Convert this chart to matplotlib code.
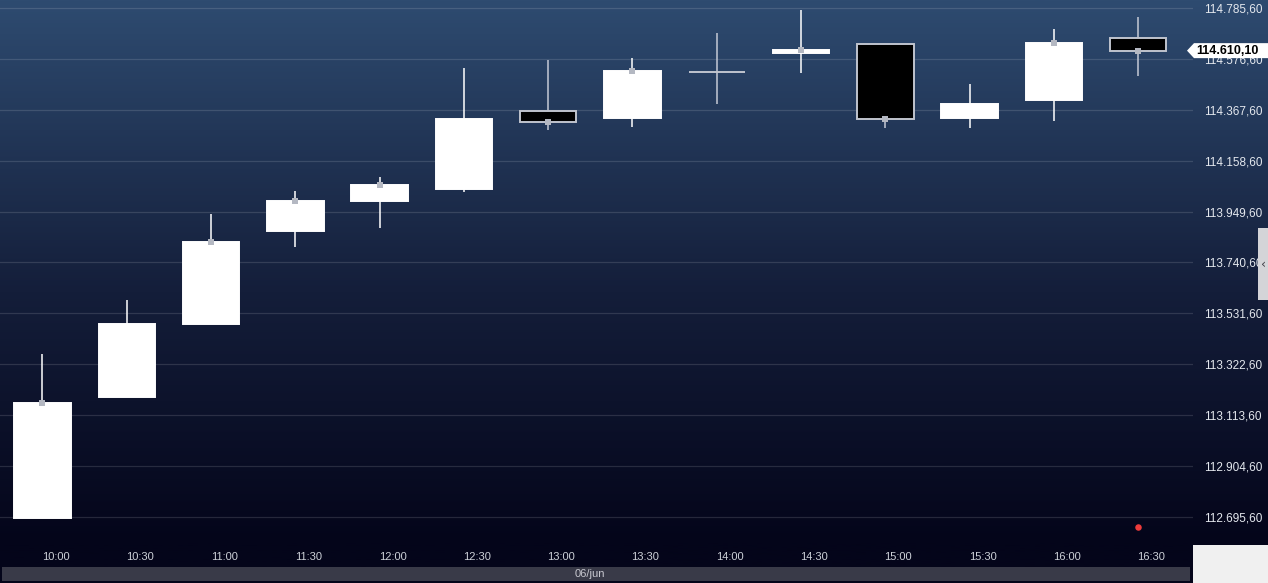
import matplotlib
matplotlib.use("Agg")
import matplotlib.pyplot as plt
import numpy as np
from matplotlib.colors import LinearSegmentedColormap
from matplotlib.patches import Rectangle, Polygon
from matplotlib.transforms import ScaledTranslation

W, H, DPI = 1268, 583, 100

# 30-min candles, 06/jun
TIMES = ["10:00", "10:30", "11:00", "11:30", "12:00", "12:30", "13:00",
         "13:30", "14:00", "14:30", "15:00", "15:30", "16:00", "16:30"]
OPEN = [112690.0, 113188.4, 113488.1, 113870.0, 113993.1, 114042.4, 114362.7,
        114333.9, 114522.8, 114600.8, 114637.8, 114333.9, 114407.8, 114662.4]
HIGH = [113364.9, 113586.6, 113939.8, 114034.2, 114091.7, 114539.2, 114572.1,
        114580.3, 114682.9, 114777.4, 114637.8, 114473.5, 114699.4, 114748.6]
LOW = [112690.0, 113188.4, 113488.1, 113804.3, 113882.3, 114030.1, 114284.7,
       114297.0, 114391.4, 114518.7, 114292.9, 114292.9, 114321.6, 114506.4]
CLOSE = [113163.7, 113488.1, 113824.8, 113993.1, 114058.8, 114329.8, 114315.5,
         114526.9, 114522.8, 114613.1, 114329.8, 114391.4, 114641.9, 114610.1]
MARKED = [True, False, True, True, True, False, True,
          True, False, True, True, False, True, True]
LAST = 114610.10
EVENT_X, EVENT_Y = 13, 112654.6
Y_TICKS = [112695.6, 112904.6, 113113.6, 113322.6, 113531.6, 113740.6,
           113949.6, 114158.6, 114367.6, 114576.6, 114785.6]
DATE = "06/jun"


def br(v):
    return f"{v:,.2f}".replace(",", "X").replace(".", ",").replace("X", ".")


def fx(px):
    return px / W


def fy(py):
    return 1 - py / H


fig = plt.figure(figsize=(W / DPI, H / DPI), dpi=DPI)

# background gradient
bg = fig.add_axes([0, 0, 1, 1], zorder=-10)
cmap = LinearSegmentedColormap.from_list(
    "bg", [(0, "#2e4b70"), (0.5, "#141e3a"), (0.93, "#04051a"), (1, "#04051a")])
bg.imshow(np.linspace(0, 1, 256).reshape(-1, 1), aspect="auto", cmap=cmap,
          extent=[0, 1, 0, 1])
bg.axis("off")

ax = fig.add_axes([0, fy(540), fx(1193), 540 / H])
ax.set_facecolor("none")

x = np.arange(len(TIMES))
o, h, l, c = map(np.array, (OPEN, HIGH, LOW, CLOSE))
up = c > o
down = c < o

wick_col = np.where(up, "#ffffff", "#c5cad6")
ax.vlines(x, l, h, colors=wick_col, lw=1.1, zorder=2)

face = np.where(up, "#ffffff", np.where(down, "#000000", "#c5cad6"))
edge = np.where(up, "#ffffff", "#c0c4ce")
ax.bar(x, c - o, bottom=o, width=0.67, color=face, edgecolor=edge,
       linewidth=1.4, zorder=3)

m = np.array(MARKED)
ax.scatter(x[m], c[m], marker="s", s=20, color="#b4b8c2", lw=0, zorder=4)

ax.scatter([EVENT_X], [EVENT_Y], s=22, color="#ee3b3b", lw=0, zorder=4)

ax.set_xlim(-0.504, 13.65)
ax.set_ylim(112601, 114818)

ax.set_yticks(Y_TICKS)
ax.set_yticklabels([br(v) for v in Y_TICKS])
ax.grid(axis="y", color="#ffffff", alpha=0.13, lw=0.9)
ax.tick_params(axis="y", left=False, labelleft=False, right=True, labelright=True,
               length=0, pad=8, labelsize=8.5, labelcolor="#e4e8ee")
ax.set_xticks(x)
ax.set_xticklabels(TIMES)
ax.tick_params(axis="x", length=0, pad=9, labelsize=8, labelcolor="#cdd1d8")
shift = ScaledTranslation(13 / DPI, 0, fig.dpi_scale_trans)
for lab in ax.get_xticklabels():
    lab.set_transform(lab.get_transform() + shift)
for lab in ax.get_xticklabels() + ax.get_yticklabels():
    lab.set_fontfamily("Liberation Sans")
for s in ax.spines.values():
    s.set_visible(False)

# last price tag
fig.canvas.draw()
ty = ax.transData.transform((0, LAST))[1]
tpy = H - ty
tag = Polygon([(fx(1187), fy(tpy)), (fx(1194), fy(tpy - 7.5)), (fx(1268), fy(tpy - 7.5)),
               (fx(1268), fy(tpy + 7.5)), (fx(1194), fy(tpy + 7.5))],
              closed=True, transform=fig.transFigure, facecolor="#ffffff",
              edgecolor="none", zorder=20)
fig.patches.append(tag)
fig.text(fx(1227), fy(tpy), br(LAST), ha="center", va="center", fontsize=9,
         fontweight="bold", color="#000000", family="Liberation Sans", zorder=21)

# date strip, scroll handle, corner box
fig.patches.append(Rectangle((fx(2), fy(581)), fx(1188), 14 / H, transform=fig.transFigure,
                             facecolor="#393a48", edgecolor="none", zorder=5))
fig.text(fx(590), fy(574), DATE, ha="center", va="center", fontsize=8,
         color="#c8c8d0", family="Liberation Sans", zorder=6)
fig.patches.append(Rectangle((fx(1193), 0), fx(75), 38 / H, transform=fig.transFigure,
                             facecolor="#f0f0f0", edgecolor="none", zorder=5))
fig.patches.append(Rectangle((fx(1258), fy(300)), fx(10), 72 / H, transform=fig.transFigure,
                             facecolor="#d4d4d8", edgecolor="none", zorder=5))
fig.text(fx(1263), fy(264), "‹", ha="center", va="center", fontsize=9,
         color="#404048", zorder=6)

fig.savefig("out.png", dpi=DPI)
